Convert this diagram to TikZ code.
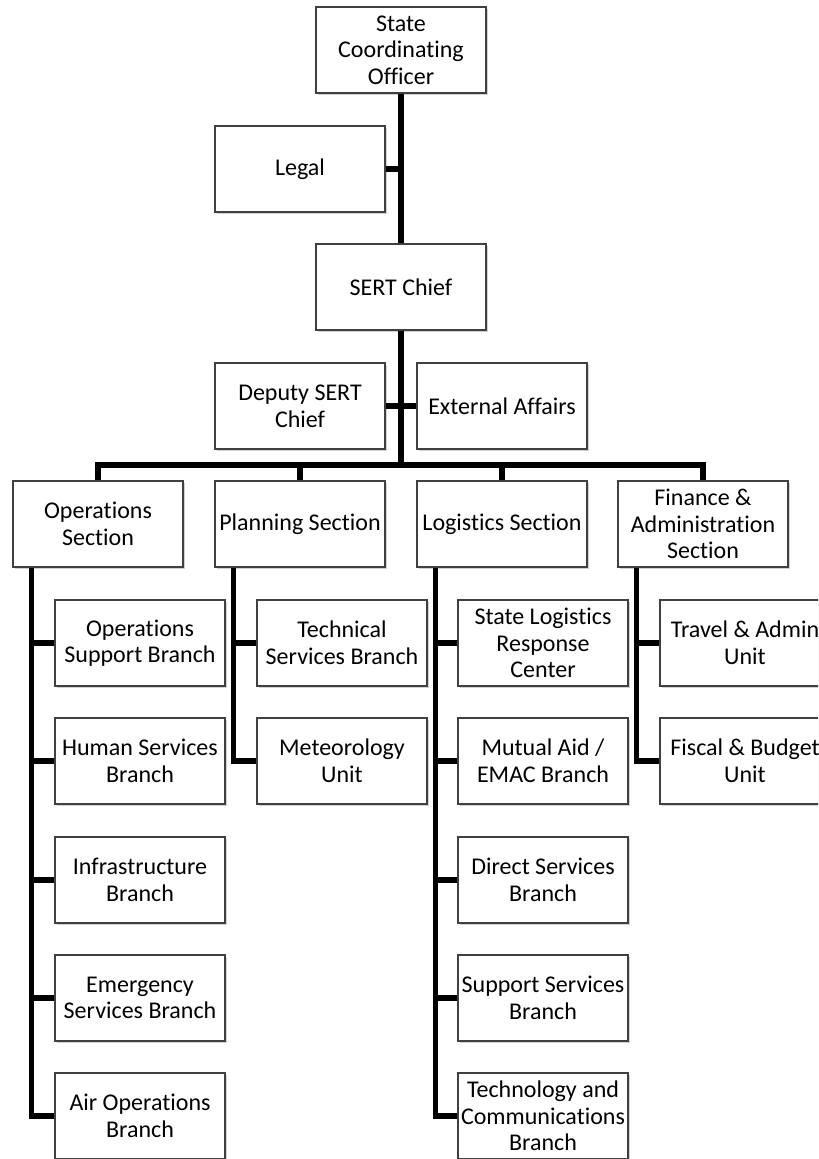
\documentclass[tikz,border=0pt]{standalone}
\usepackage{fontspec}
\setmainfont{Carlito}[Ligatures=NoCommon]
\usetikzlibrary{shadows,calc}

\begin{document}
\begin{tikzpicture}[x=0.5pt,y=-0.5pt,
  unit/.style={draw=black!75,line width=0.6pt,fill=white,
    minimum width=85pt,minimum height=43pt,inner sep=1pt,align=center,
    font=\fontsize{12}{13.3}\selectfont,
    drop shadow={shadow xshift=1pt,shadow yshift=-1pt,opacity=0.3,fill=black!60}},
  link/.style={line width=2.6pt},
  trunk/.style={line width=3.2pt},
]
  \useasboundingbox (0,0) rectangle (818,1159);
  \clip (0,0) rectangle (818,1159);

  % command staff
  \node[unit] (sco) at (401,50) {State\\Coordinating\\Officer};
  \node[unit] (legal) at (300,169) {Legal};
  \node[unit] (chief) at (401,287) {SERT Chief};
  \node[unit] (deputy) at (300,406) {Deputy SERT\\Chief};
  \node[unit] (ext) at (502,406) {External Affairs};

  % sections
  \node[unit] (ops) at (98,524) {Operations\\Section};
  \node[unit] (plan) at (300,524) {Planning Section};
  \node[unit] (log) at (502,524) {Logistics Section};
  \node[unit] (fin) at (703,524) {Finance \&\\Administration\\Section};

  % branches and units
  \node[unit] (ops1) at (140,643) {Operations\\Support Branch};
  \node[unit] (ops2) at (140,761) {Human Services\\Branch};
  \node[unit] (ops3) at (140,880) {Infrastructure\\Branch};
  \node[unit] (ops4) at (140,998) {Emergency\\Services Branch};
  \node[unit] (ops5) at (140,1116) {Air Operations\\Branch};

  \node[unit] (plan1) at (342,643) {Technical\\Services Branch};
  \node[unit] (plan2) at (342,761) {Meteorology\\Unit};

  \node[unit] (log1) at (543,643) {State Logistics\\Response\\Center};
  \node[unit] (log2) at (543,761) {Mutual Aid /\\EMAC Branch};
  \node[unit] (log3) at (543,880) {Direct Services\\Branch};
  \node[unit] (log4) at (543,998) {Support Services\\Branch};
  \node[unit] (log5) at (543,1116) {Technology and\\Communications\\Branch};

  \node[unit] (fin1) at (745,643) {Travel \& Admin\\Unit};
  \node[unit] (fin2) at (745,761) {Fiscal \& Budget\\Unit};

  % connectors
  \coordinate (bus) at (401,465);
  \draw[trunk] (sco.south) -- (chief.north);
  \draw[trunk] (chief.south) -- (bus);
  \draw[link] (legal.east) -- (legal.east -| sco.south);
  \draw[link] (deputy.east) -- (ext.west);
  \foreach \s in {ops,plan,log,fin}
    \draw[link] (bus) -| (\s.north);

  \foreach \s/\n in {ops/5,plan/2,log/5,fin/2}
    \foreach \i in {1,...,\n}
      \draw[link] ($(\s.south west)+(19,0)$) |- (\s\i.west);
\end{tikzpicture}
\end{document}
